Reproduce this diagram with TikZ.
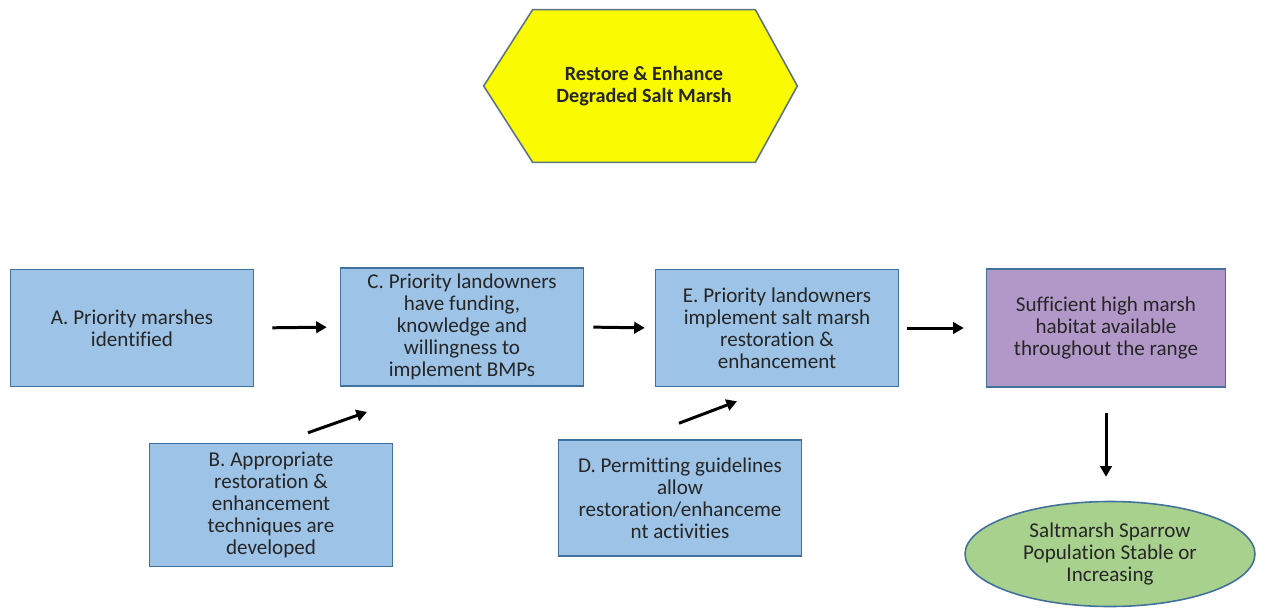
\documentclass[tikz,border=0pt]{standalone}
\usepackage{fontspec}
\setmainfont[Ligatures=NoCommon]{Carlito}
\usetikzlibrary{arrows.meta,positioning,shapes.geometric,calc,backgrounds}
\definecolor{boxblue}{RGB}{157,195,230}
\definecolor{edgeblue}{RGB}{65,113,156}
\definecolor{habpurple}{RGB}{178,152,200}
\definecolor{popgreen}{RGB}{169,209,142}
\definecolor{goalyellow}{RGB}{250,250,0}
\definecolor{hexedge}{RGB}{95,115,135}
\definecolor{inkgrey}{RGB}{38,38,38}

\begin{document}
\begin{tikzpicture}[x=0.02cm, y=-0.02cm,
  box/.style={rectangle, draw=edgeblue, line width=0.9pt, fill=boxblue,
              minimum width=4.86cm, minimum height=2.34cm, align=center,
              font=\fontsize{12}{12.6}\selectfont, text=inkgrey},
  arrow/.style={-{Triangle[length=6pt,width=6.5pt]}, line width=1.7pt, black}
]
\useasboundingbox (0,0) rectangle (1261,609);

% Goal hexagon
\node[minimum width=4.44cm, minimum height=3.04cm, align=center,
      font=\fontsize{11.5}{12.6}\selectfont\bfseries, text=inkgrey]
      (goal) at (644,86) {Restore \& Enhance\\Degraded Salt Marsh};
\begin{scope}[on background layer]
  \draw[hexedge, line width=0.9pt, fill=goalyellow]
    ($(goal.west)+(-49,0)$) -- (goal.north west) -- (goal.north east)
    -- ($(goal.east)+(42,0)$) -- (goal.south east) -- (goal.south west) -- cycle;
\end{scope}

% Main chain
\node[box] (a) at (132,328) {A. Priority marshes\\identified};
\node[box] (c) at (462,327) {C. Priority landowners\\have funding,\\knowledge and\\willingness to\\implement BMPs};
\node[box] (e) at (777,328) {E. Priority landowners\\implement salt marsh\\restoration \&\\enhancement};
\node[box, fill=habpurple, minimum width=4.78cm, minimum height=2.36cm] (hab) at (1106,328) {Sufficient high marsh\\habitat available\\throughout the range};

% Supporting boxes
\node[box, minimum height=2.46cm] (b) at (271,505) {B. Appropriate\\restoration \&\\enhancement\\techniques are\\developed};
\node[box, minimum height=2.32cm] (d) at (680,498) {D. Permitting guidelines\\allow\\restoration/enhanceme\\nt activities};

% Outcome
\node[ellipse, draw=edgeblue, line width=0.9pt, fill=popgreen, minimum width=5.8cm,
      minimum height=2.1cm, align=center, font=\fontsize{12}{12.6}\selectfont,
      text=inkgrey] (pop) at (1110,554) {Saltmarsh Sparrow\\Population Stable or\\Increasing};

% Arrows
\draw[arrow, shorten <=0.36cm, shorten >=0.26cm] (a.east) -- (c.west);
\draw[arrow, shorten <=0.18cm, shorten >=0.2cm] (c.east) -- (e.west);
\draw[arrow, shorten <=0.16cm, shorten >=0.44cm] (e.east) -- (hab.west);
\draw[arrow, shorten <=0.5cm, shorten >=0.48cm] (hab.south) -- (hab.south |- pop.north);
\draw[arrow] ($(b.north)+(37,-10)$) -- ($(c.south)+(-95,25)$);
\draw[arrow] ($(d.north)+(-1,-16)$) -- ($(e.south)+(-40,14)$);
\end{tikzpicture}
\end{document}
